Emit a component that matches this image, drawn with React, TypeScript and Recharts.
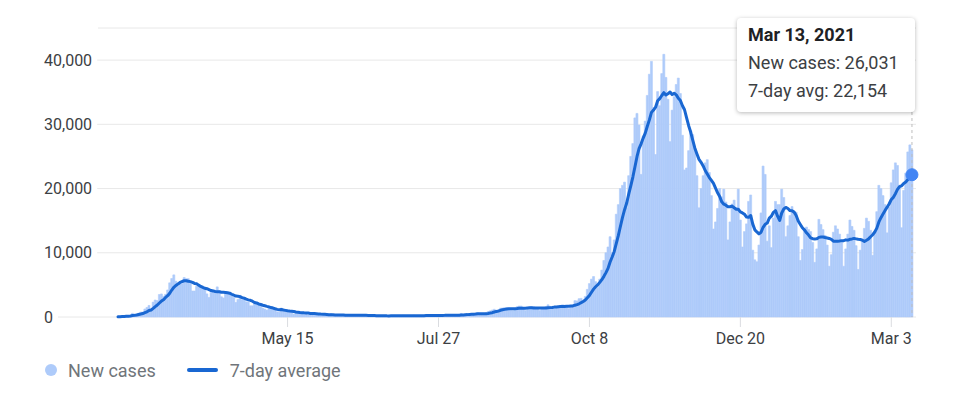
import React from 'react';
import { ComposedChart, Bar, Line, XAxis, YAxis, CartesianGrid, Tooltip } from 'recharts';

// daily series start on Sun Feb 23, 2020 and end on Sat Mar 13, 2021 (one row per week)
const firstDay = { y: 2020, m: 1, d: 23 };

const tickDates = ['2020-05-15', '2020-07-27', '2020-10-08', '2020-12-20', '2021-03-03'];
const yTicks = [0, 10000, 20000, 30000, 40000];
const monthNames = ['Jan', 'Feb', 'Mar', 'Apr', 'May', 'Jun', 'Jul', 'Aug', 'Sep', 'Oct', 'Nov', 'Dec'];

const newCases = [
  70, 70, 90, 80, 250, 240, 240,
  570, 340, 470, 590, 770, 780, 1250,
  1490, 1800, 980, 2310, 2650, 2550, 3500,
  3590, 3230, 3530, 4210, 5320, 5990, 6560,
  5560, 4790, 5250, 5210, 6150, 5960, 5970,
  5220, 4050, 4050, 4780, 4670, 4590, 4810,
  4320, 3600, 3040, 3840, 4200, 3950, 4690,
  4090, 3150, 2970, 3790, 3790, 3490, 3490,
  3050, 2260, 2730, 3370, 2650, 3020, 2360,
  2320, 1740, 1740, 2090, 2090, 1870, 1900,
  1390, 1220, 1080, 1440, 1400, 1330, 1080,
  800, 740, 1400, 890, 990, 790, 880,
  680, 450, 810, 670, 640, 650, 670,
  530, 300, 400, 580, 590, 520, 420,
  360, 180, 320, 320, 380, 520, 270,
  200, 280, 280, 280, 380, 200, 260,
  340, 300, 210, 330, 330, 250, 260,
  220, 220, 120, 190, 300, 260, 170,
  170, 130, 140, 200, 180, 200, 230,
  190, 130, 200, 190, 230, 270, 190,
  230, 170, 110, 280, 230, 230, 250,
  220, 130, 190, 280, 300, 250, 270,
  250, 170, 210, 290, 380, 380, 300,
  240, 160, 190, 380, 400, 550, 350,
  460, 260, 410, 480, 570, 630, 630,
  480, 320, 400, 640, 850, 950, 1080,
  1200, 950, 880, 1370, 1400, 1460, 1440,
  1370, 1000, 980, 1330, 1600, 1700, 1700,
  1300, 1000, 1300, 1450, 1600, 1600, 1500,
  1450, 1000, 1200, 1450, 1600, 1900, 1650,
  1600, 1350, 1400, 1650, 1800, 1900, 1850,
  1750, 1300, 1650, 1850, 2550, 2500, 2850,
  2900, 2600, 3200, 4300, 5200, 5900, 6300,
  5500, 4600, 5900, 7300, 8800, 10000, 10900,
  12500, 10000, 12000, 16000, 17500, 20000, 20500,
  21000, 17000, 22000, 25000, 27000, 31000, 31700,
  29900, 22200, 28200, 30500, 34500, 37800, 39800,
  32600, 25300, 35100, 32900, 37900, 40900, 37300,
  33900, 27300, 32200, 34300, 36200, 37200, 34800,
  28300, 22900, 23200, 25900, 29000, 28400, 26300,
  22000, 17000, 20000, 22000, 24000, 24500, 22500,
  18900, 13700, 14800, 16900, 20000, 18700, 19900,
  17900, 12000, 14800, 17600, 18200, 17000, 19900,
  15100, 10900, 13300, 14500, 18000, 19000, 10400,
  8900, 8600, 11200, 16200, 23500, 22200, 11800,
  14200, 10800, 15400, 18000, 17500, 17500, 19900,
  18600, 12500, 14200, 15800, 17200, 16100, 16300,
  12500, 8800, 10500, 13600, 14000, 13600, 13300,
  11600, 8500, 10600, 15200, 14400, 13600, 12700,
  11200, 7900, 9700, 13200, 14200, 13700, 12900,
  11600, 7900, 10600, 12900, 15100, 14100, 13500,
  11100, 7400, 10400, 12100, 13800, 15400, 14900,
  13500, 9600, 13300, 16400, 20500, 20000, 18900,
  17500, 13100, 17100, 20900, 22900, 24000, 23600,
  20550, 13900, 19700, 22400, 25700, 26800, 26031,
];

const sevenDayAvg = [
  30, 50, 70, 80, 110, 130, 150,
  220, 260, 310, 390, 460, 540, 680,
  810, 1020, 1090, 1340, 1610, 1860, 2180,
  2480, 2690, 3050, 3320, 3700, 4200, 4630,
  4910, 5140, 5380, 5530, 5640, 5640, 5560,
  5510, 5400, 5230, 5170, 4960, 4760, 4600,
  4470, 4400, 4260, 4120, 4060, 3970, 3950,
  3920, 3850, 3840, 3830, 3780, 3710, 3540,
  3390, 3260, 3230, 3170, 3010, 2940, 2780,
  2670, 2600, 2460, 2270, 2190, 2030, 1960,
  1830, 1760, 1660, 1570, 1470, 1390, 1280,
  1190, 1120, 1170, 1090, 1030, 960, 930,
  910, 870, 780, 750, 700, 680, 650,
  630, 610, 550, 540, 530, 510, 480,
  450, 440, 420, 390, 360, 360, 340,
  310, 330, 320, 320, 320, 270, 270,
  290, 290, 280, 290, 280, 290, 290,
  270, 260, 250, 230, 220, 220, 210,
  200, 190, 190, 200, 180, 170, 180,
  180, 180, 190, 190, 200, 210, 200,
  210, 210, 200, 210, 210, 210, 210,
  210, 210, 220, 220, 230, 230, 230,
  240, 240, 250, 250, 260, 280, 280,
  280, 280, 280, 290, 290, 320, 320,
  360, 370, 400, 420, 440, 450, 490,
  490, 500, 500, 520, 560, 610, 670,
  780, 870, 940, 1040, 1120, 1190, 1240,
  1270, 1270, 1290, 1280, 1310, 1350, 1380,
  1370, 1370, 1420, 1440, 1440, 1420, 1390,
  1410, 1410, 1400, 1400, 1400, 1440, 1460,
  1490, 1540, 1560, 1590, 1620, 1620, 1650,
  1670, 1660, 1700, 1730, 1840, 1920, 2060,
  2230, 2410, 2640, 2990, 3360, 3850, 4340,
  4710, 5000, 5390, 5810, 6330, 6910, 7570,
  8570, 9340, 10210, 11460, 12700, 14130, 15500,
  16710, 17710, 19140, 20430, 21790, 23360, 24960,
  26230, 26970, 27860, 28640, 29710, 30690, 31860,
  32230, 32670, 33660, 34000, 34490, 34930, 34570,
  34760, 35040, 34630, 34830, 34590, 34060, 33700,
  32900, 32270, 30990, 29790, 28760, 27500, 26290,
  25390, 24540, 24090, 23530, 22810, 22260, 21710,
  21270, 20800, 20060, 19330, 18760, 17930, 17560,
  17410, 17170, 17170, 17270, 17010, 16770, 16770,
  16370, 16210, 16000, 15560, 15530, 15810, 14460,
  13570, 13240, 12940, 13190, 13970, 14430, 14630,
  15390, 15700, 16300, 16560, 15700, 15030, 16190,
  16810, 17060, 16890, 16570, 16530, 16330, 15810,
  14940, 14410, 13890, 13570, 13110, 12760, 12330,
  12200, 12160, 12170, 12400, 12460, 12460, 12370,
  12310, 12230, 12100, 11810, 11790, 11800, 11830,
  11890, 11890, 12010, 11970, 12100, 12160, 12240,
  12170, 12100, 12070, 11960, 11770, 11960, 12160,
  12500, 12810, 13230, 13840, 14800, 15460, 16030,
  16600, 17100, 17640, 18290, 18630, 19200, 19870,
  20310, 20420, 20790, 21010, 21410, 21810, 22154,
];

const isoDay = (i: number) =>
  new Date(Date.UTC(firstDay.y, firstDay.m, firstDay.d + i)).toISOString().slice(0, 10);

const data = newCases.map((v, i) => ({ date: isoDay(i), cases: v, avg: sevenDayAvg[i] }));

const shortDate = (iso: string) => {
  const [, m, d] = iso.split('-');
  return `${monthNames[+m - 1]} ${+d}`;
};
const longDate = (iso: string) => `${shortDate(iso)}, ${iso.slice(0, 4)}`;

const GRID = '#e8e8e8';
const AXIS_TEXT = '#3c4043';
const BAR = '#aecbfa';
const LINE = '#1967d2';

// y labels sit flush left, the grid line starts just after the label
function YTick(props: any) {
  const { y, payload } = props;
  const label = Number(payload.value).toLocaleString('en-US');
  let w = 0;
  for (const ch of label) w += ch === ',' ? 3.2 : 9;
  return (
    <g>
      <text x={44} y={y} dy="0.355em" textAnchor="start" fill={AXIS_TEXT} fontSize={16}>
        {label}
      </text>
      <line x1={44 + w + 5} x2={98} y1={y} y2={y} stroke={GRID} />
    </g>
  );
}

function TipBox(props: any) {
  const { active, payload } = props;
  if (!active || !payload || !payload.length) return null;
  const row = payload[0].payload;
  return (
    <div
      style={{
        width: 178,
        height: 94,
        boxSizing: 'border-box',
        padding: '3px 10px 0 11px',
        background: '#fff',
        borderRadius: 4,
        boxShadow: '0 1px 4px rgba(0,0,0,0.28)',
        fontSize: 18,
        lineHeight: '28px',
        color: '#3c4043',
        whiteSpace: 'nowrap',
      }}
    >
      <div style={{ fontWeight: 700, color: '#202124' }}>{longDate(row.date)}</div>
      <div>New cases: {row.cases.toLocaleString('en-US')}</div>
      <div>7-day avg: {row.avg.toLocaleString('en-US')}</div>
    </div>
  );
}

export default function App() {
  return (
    <div
      style={{
        position: 'absolute',
        left: 0,
        top: 0,
        width: 957,
        height: 397,
        background: '#fff',
        fontFamily: 'Roboto, Arial, sans-serif',
      }}
    >
      <ComposedChart
        width={957}
        height={350}
        data={data}
        margin={{ top: 28, right: 41, bottom: 0, left: 0 }}
        barCategoryGap={0}
        barGap={0}
      >
        <CartesianGrid vertical={false} stroke={GRID} />
        <XAxis
          dataKey="date"
          ticks={tickDates}
          tickFormatter={shortDate}
          interval={0}
          axisLine={false}
          tickLine={{ stroke: '#dadce0' }}
          tickSize={10}
          tickMargin={6}
          height={33}
          padding={{ left: 19, right: 3 }}
          tick={{ fill: AXIS_TEXT, fontSize: 16 }}
        />
        <YAxis
          domain={[0, 45000]}
          ticks={yTicks}
          interval={0}
          width={98}
          axisLine={false}
          tickLine={false}
          tick={(p: any) => <YTick {...p} />}
        />
        <Tooltip
          defaultIndex={data.length - 1}
          active
          position={{ x: 737, y: 18 }}
          isAnimationActive={false}
          cursor={{ stroke: '#bdbdbd', strokeDasharray: '3 3', strokeWidth: 1 }}
          wrapperStyle={{ outline: 'none' }}
          content={(p: any) => <TipBox {...p} />}
        />
        <Bar
          dataKey="cases"
          fill={BAR}
          stroke={BAR}
          strokeWidth={0.6}
          isAnimationActive={false}
          activeBar={false}
        />
        <Line
          type="linear"
          dataKey="avg"
          stroke={LINE}
          strokeWidth={3}
          strokeLinecap="round"
          strokeLinejoin="round"
          dot={false}
          activeDot={{ r: 6, fill: '#4285f4', stroke: '#4285f4', strokeWidth: 1 }}
          isAnimationActive={false}
        />
      </ComposedChart>
      <div
        style={{
          position: 'absolute',
          left: 45,
          top: 358,
          height: 24,
          display: 'flex',
          alignItems: 'center',
          fontSize: 18,
          color: '#70757a',
          whiteSpace: 'nowrap',
        }}
      >
        <span style={{ width: 12, height: 12, borderRadius: 6, background: BAR, marginRight: 11 }} />
        <span>New cases</span>
        <span style={{ width: 31, height: 4, borderRadius: 2, background: LINE, marginLeft: 31, marginRight: 12 }} />
        <span>7-day average</span>
      </div>
    </div>
  );
}
